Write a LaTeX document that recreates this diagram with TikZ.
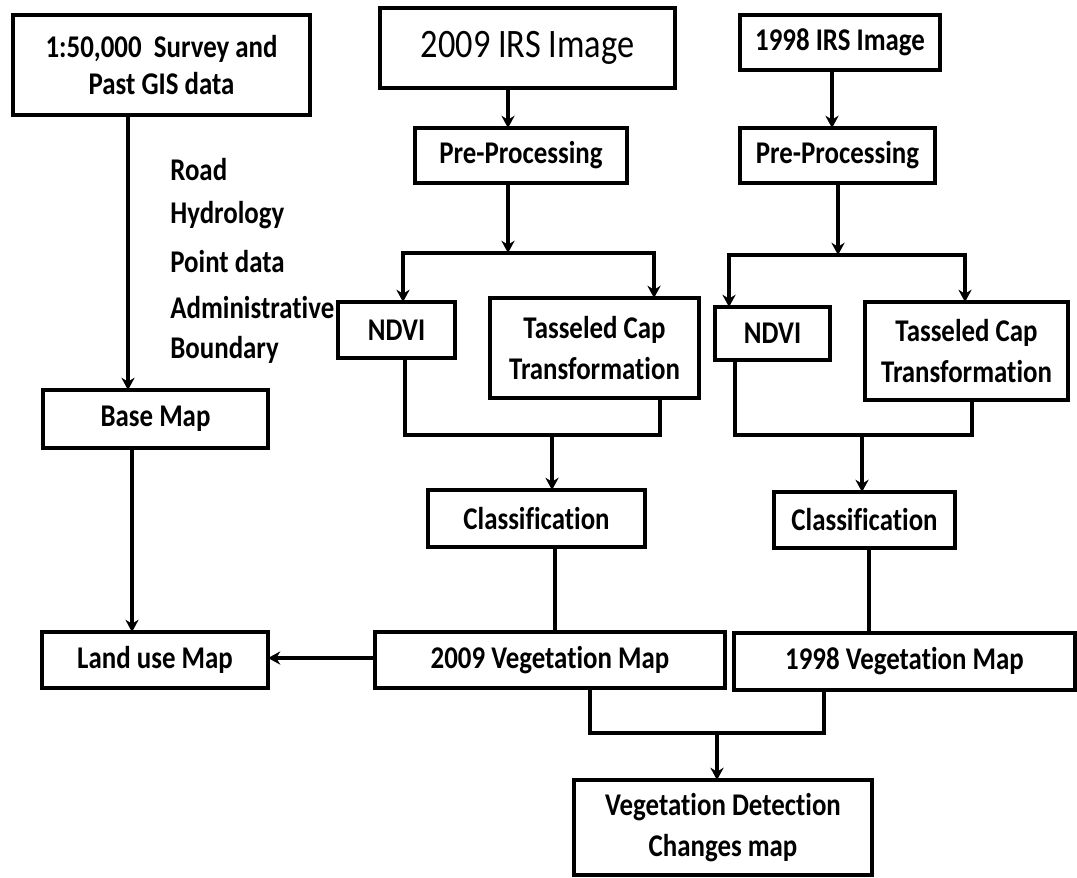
\documentclass[tikz,border=0pt]{standalone}
\usepackage{fontspec}
\setmainfont{Carlito}[FakeStretch=0.85, Ligatures=NoCommon]
\usetikzlibrary{arrows.meta}
\begin{document}
\begin{tikzpicture}[x=0.02cm,y=-0.02cm,
  box/.style={draw, line width=2.4pt, inner sep=0pt, outer sep=0pt, align=center,
    font=\fontsize{18}{23}\selectfont\bfseries},
  conn/.style={line width=1.8pt},
  arr/.style={conn, -{Stealth[length=7pt,width=7.5pt]}},
  lab/.style={anchor=west, inner sep=0pt, font=\fontsize{18}{22}\selectfont\bfseries}]
\useasboundingbox (0,0) rectangle (1077,877);

% boxes
\node[box, minimum width=5.94cm, minimum height=2.0cm, font=\fontsize{18}{21}\selectfont\bfseries] (A) at (161.5,65) {1:50,000~~Survey and\\Past GIS data};
\node[box, minimum width=5.9cm, minimum height=1.6cm, line width=2.8pt, font=\fontsize{23}{26}\selectfont] (irs09) at (527.5,48) {2009 IRS Image};
\node[box, minimum width=4.0cm, minimum height=1.1cm] (irs98) at (840,42.5) {1998 IRS Image};
\node[box, minimum width=4.24cm, minimum height=1.1cm] (pre09) at (521,155.5) {Pre-Processing};
\node[box, minimum width=3.9cm, minimum height=1.1cm] (pre98) at (837.5,155.5) {Pre-Processing};
\node[box, minimum width=2.34cm, minimum height=1.12cm] (ndvi09) at (396.5,330) {NDVI};
\node[box, minimum width=4.18cm, minimum height=2.0cm] (tc09) at (594.5,348) {Tasseled Cap\\Transformation};
\node[box, minimum width=2.3cm, minimum height=1.06cm] (ndvi98) at (772.5,333.5) {NDVI};
\node[box, minimum width=4.06cm, minimum height=1.96cm] (tc98) at (966.5,351) {Tasseled Cap\\Transformation};
\node[box, minimum width=4.34cm, minimum height=1.14cm] (cls09) at (536.5,518.5) {Classification};
\node[box, minimum width=3.62cm, minimum height=1.12cm] (cls98) at (864.5,520) {Classification};
\node[box, minimum width=7.0cm, minimum height=1.12cm] (veg09) at (550,660) {2009 Vegetation Map};
\node[box, minimum width=6.82cm, minimum height=1.14cm] (veg98) at (904.5,661.5) {1998 Vegetation Map};
\node[box, minimum width=4.52cm, minimum height=1.12cm] (land) at (155,660) {Land use Map};
\node[box, minimum width=4.5cm, minimum height=1.16cm] (base) at (155.5,419) {Base Map};
\node[box, minimum width=5.96cm, minimum height=1.9cm] (vdc) at (723,827.5) {Vegetation Detection\\Changes map};

% labels
\node[lab] (l1) at (170,170) {Road};
\node[lab] (l2) at (170,215) {Hydrology};
\node[lab] (l3) at (170,262) {Point data};
\node[lab] (l4) at (170,308) {Administrative};
\node[lab] (l5) at (170,350) {Boundary};

% column coordinates
\coordinate (xA) at (128,0);
\coordinate (xB) at (132,0);
\coordinate (x09) at (508,0);
\coordinate (x98) at (838,0);
\coordinate (xi98) at (832,0);
\coordinate (j09) at (508,253);
\coordinate (j98) at (838,255);
\coordinate (xn09) at (403,0);
\coordinate (xt09) at (654,0);
\coordinate (xn98) at (729,0);
\coordinate (xt98) at (965,0);
\coordinate (xn09b) at (405,0);
\coordinate (xt09b) at (660,0);
\coordinate (m09) at (552,435);
\coordinate (xn98b) at (735,0);
\coordinate (xt98b) at (972,0);
\coordinate (m98) at (862,435);
\coordinate (xc09) at (555,0);
\coordinate (xc98) at (869,0);
\coordinate (xv09) at (590,0);
\coordinate (xv98) at (824,0);
\coordinate (mv) at (717,733);
\coordinate (yl) at (0,658);

% connectors
\draw[arr] (A.south -| xA) -- (base.north -| xA);
\draw[arr] (base.south -| xB) -- (land.north -| xB);
\draw[arr] (irs09.south -| x09) -- (pre09.north -| x09);
\draw[arr] (irs98.south -| xi98) -- (pre98.north -| xi98);
\draw[arr] (pre09.south -| x09) -- (j09);
\draw[arr] (pre98.south -| x98) -- (j98);
\draw[arr] (j09) -| (ndvi09.north -| xn09);
\draw[arr] (j09) -| (tc09.north -| xt09);
\draw[arr] (j98) -| (ndvi98.north -| xn98);
\draw[arr] (j98) -| (tc98.north -| xt98);
\draw[conn] (ndvi09.south -| xn09b) |- (m09);
\draw[conn] (tc09.south -| xt09b) |- (m09);
\draw[arr] (m09) -- (cls09.north -| m09);
\draw[conn] (ndvi98.south -| xn98b) |- (m98);
\draw[conn] (tc98.south -| xt98b) |- (m98);
\draw[arr] (m98) -- (cls98.north -| m98);
\draw[conn] (cls09.south -| xc09) -- (veg09.north -| xc09);
\draw[conn] (cls98.south -| xc98) -- (veg98.north -| xc98);
\draw[arr] (veg09.west |- yl) -- (land.east |- yl);
\draw[conn] (veg09.south -| xv09) |- (mv);
\draw[conn] (veg98.south -| xv98) |- (mv);
\draw[arr] (mv) -- (vdc.north -| mv);
\end{tikzpicture}
\end{document}
